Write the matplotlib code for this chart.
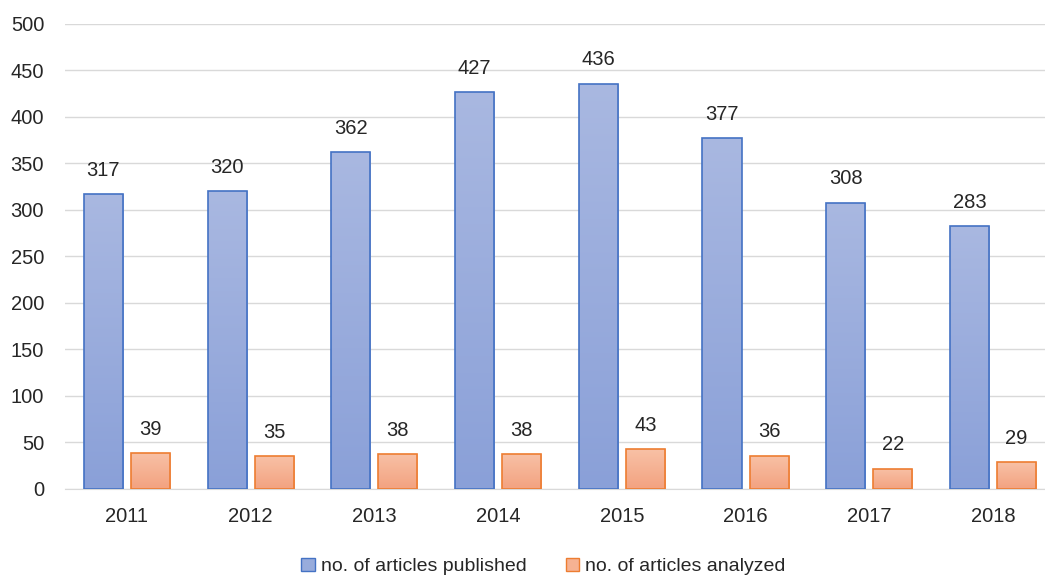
import numpy as np
import matplotlib.pyplot as plt
from matplotlib.colors import LinearSegmentedColormap
from matplotlib.patches import Patch

plt.rcParams['font.family'] = ['Liberation Sans', 'DejaVu Sans']

years = ['2011', '2012', '2013', '2014', '2015', '2016', '2017', '2018']
published = [317, 320, 362, 427, 436, 377, 308, 283]
analyzed = [39, 35, 38, 38, 43, 36, 22, 29]

blue_cmap = LinearSegmentedColormap.from_list('b', ['#8aa0d8', '#a9b8e1'])
orange_cmap = LinearSegmentedColormap.from_list('o', ['#f3a280', '#f8c1a6'])

fig = plt.figure(figsize=(10.45, 5.78), dpi=100)
ax = fig.add_axes([0.0622, 0.154, 0.9378, 0.8045])

x = np.arange(len(years))
w = 0.316
off = 0.19


def gradient_bars(bars, cmap, edge):
    grad = np.linspace(0, 1, 256).reshape(-1, 1)
    for b in bars:
        b.set_facecolor('none')
        b.set_edgecolor(edge)
        b.set_linewidth(1.2)
        b.set_zorder(3)
        x0, y0 = b.get_x(), b.get_y()
        im = ax.imshow(grad, cmap=cmap, origin='lower', aspect='auto',
                       extent=(x0, x0 + b.get_width(), y0, y0 + b.get_height()),
                       zorder=2)
        im.set_clip_path(b)


b1 = ax.bar(x - off, published, w)
b2 = ax.bar(x + off, analyzed, w)
gradient_bars(b1, blue_cmap, '#4472c4')
gradient_bars(b2, orange_cmap, '#ed7d31')

for bars, vals in ((b1, published), (b2, analyzed)):
    for b, v in zip(bars, vals):
        ax.annotate(str(v), (b.get_x() + b.get_width() / 2, v),
                    xytext=(0, 17), textcoords='offset points',
                    ha='center', va='center', fontsize=14.5, color='#262626')

ax.set_xlim(-0.5, 7.42)
ax.set_ylim(0, 500)
ax.set_yticks(range(0, 501, 50))
ax.set_xticks(x)
ax.set_xticklabels(years)
ax.tick_params(length=0, labelsize=14.5, labelcolor='#262626')
ax.tick_params(axis='x', pad=13)
ax.tick_params(axis='y', pad=15)
ax.grid(axis='y', color='#d9d9d9', linewidth=1)
ax.set_axisbelow(True)
for s in ['top', 'right', 'left']:
    ax.spines[s].set_visible(False)
ax.spines['bottom'].set_color('#d9d9d9')

handles = [Patch(facecolor='#98acdc', edgecolor='#4472c4', label='no. of articles published'),
           Patch(facecolor='#f6b293', edgecolor='#ed7d31', label='no. of articles analyzed')]
fig.legend(handles=handles, loc='center', bbox_to_anchor=(0.52, 0.02), ncol=2,
           frameon=False, fontsize=14, handlelength=0.7, handleheight=0.7,
           handletextpad=0.3, columnspacing=2.0, labelcolor='#262626')

fig.savefig('out.png', dpi=100)
